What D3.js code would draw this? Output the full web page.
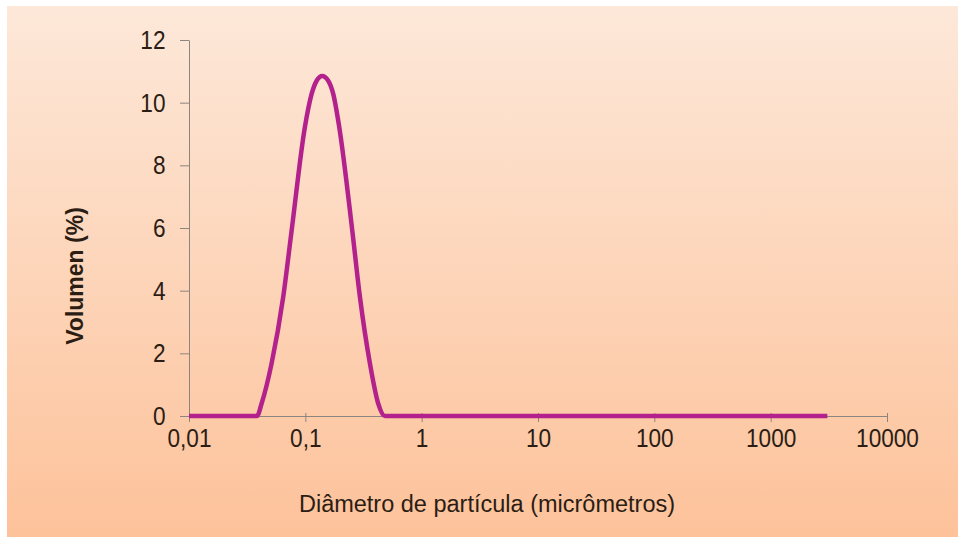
<!DOCTYPE html>
<html>
<head>
<meta charset="utf-8">
<script src="https://cdn.jsdelivr.net/npm/d3@7"></script>
<style>
  body { margin: 0; background: #fff; }
  svg { display: block; }
  .axis text { font-family: "Liberation Sans", Arial, sans-serif; font-size: 26px; fill: #2b1d14; }
  .axis path, .axis line { stroke: #8c857f; stroke-width: 1; }
</style>
</head>
<body>
<div id="chart"></div>
<script>
// Particle size distribution (diameter in micrometres, volume %)
const diameters = [0.01, 0.0384, 0.0421, 0.0513, 0.0646, 0.0763, 0.0992, 0.1133, 0.1251, 0.1397,
                   0.1573, 0.1737, 0.1955, 0.253, 0.2944, 0.359, 0.423, 0.483, 3070];
const volumes   = [0, 0, 0.4, 1.68, 3.81, 5.93, 9.23, 10.28, 10.7, 10.85,
                   10.7, 10.28, 9.23, 5.93, 3.81, 1.68, 0.4, 0, 0];
const xTicks = [0.01, 0.1, 1, 10, 100, 1000, 10000];
const xTickLabels = ['0,01', '0,1', '1', '10', '100', '1000', '10000'];
const yTicks = [0, 2, 4, 6, 8, 10, 12];
const xTitle = 'Diâmetro de partícula (micrômetros)';
const yTitle = 'Volumen (%)';

const width = 958, height = 537;
const margin = { top: 40, right: 71, bottom: 121, left: 189 };
const chartWidth = width - margin.left - margin.right;
const chartHeight = height - margin.top - margin.bottom;

const svg = d3.select('#chart').append('svg')
    .attr('width', width)
    .attr('height', height);

// Background gradient panel
const defs = svg.append('defs');
const grad = defs.append('linearGradient')
    .attr('id', 'bg').attr('x1', 0).attr('y1', 0).attr('x2', 0).attr('y2', 1);
grad.append('stop').attr('offset', '0%').attr('stop-color', '#fde8d9');
grad.append('stop').attr('offset', '100%').attr('stop-color', '#fdc29a');

svg.append('rect')
    .attr('x', 7).attr('y', 6)
    .attr('width', width - 7).attr('height', height - 6)
    .attr('fill', 'url(#bg)');

const g = svg.append('g')
    .attr('transform', `translate(${margin.left},${margin.top})`);

const xScale = d3.scaleLog()
    .domain([0.01, 10000])
    .range([0, chartWidth]);

const yScale = d3.scaleLinear()
    .domain([0, 12])
    .range([chartHeight, 0]);

// Y axis
const yAxis = g.append('g')
    .attr('class', 'axis y-axis')
    .call(d3.axisLeft(yScale).tickValues(yTicks).tickSize(9).tickPadding(18).tickSizeOuter(0));
yAxis.selectAll('.tick text').attr('transform', 'scale(0.87,1)');

// X axis
const xAxis = g.append('g')
    .attr('class', 'axis x-axis')
    .attr('transform', `translate(0,${chartHeight})`)
    .call(d3.axisBottom(xScale).tickValues(xTicks).tickSize(6).tickPadding(7).tickSizeOuter(0)
        .tickFormat((d, i) => xTickLabels[i]));
xAxis.selectAll('.tick line').attr('y1', -3);
xAxis.selectAll('.tick text').attr('transform', 'scale(0.87,1)');

// Data line
const data = diameters.map((d, i) => ({ d: d, v: volumes[i] }));
const line = d3.line()
    .x(p => xScale(p.d))
    .y(p => yScale(p.v))
    .curve(d3.curveMonotoneX);

g.append('path')
    .datum(data)
    .attr('d', line)
    .attr('fill', 'none')
    .attr('stroke', '#b3218d')
    .attr('stroke-width', 4.5)
    .attr('stroke-linejoin', 'round');

// Axis titles
svg.append('text')
    .attr('x', 487)
    .attr('y', 512)
    .attr('text-anchor', 'middle')
    .style('font-family', '"Liberation Sans", Arial, sans-serif')
    .style('font-size', '23.5px')
    .style('fill', '#2b1d14')
    .text(xTitle);

svg.append('text')
    .attr('transform', 'translate(83,276) rotate(-90)')
    .attr('text-anchor', 'middle')
    .style('font-family', '"Liberation Sans", Arial, sans-serif')
    .style('font-size', '23px')
    .style('font-weight', 'bold')
    .style('fill', '#2b1d14')
    .text(yTitle);
</script>
</body>
</html>
